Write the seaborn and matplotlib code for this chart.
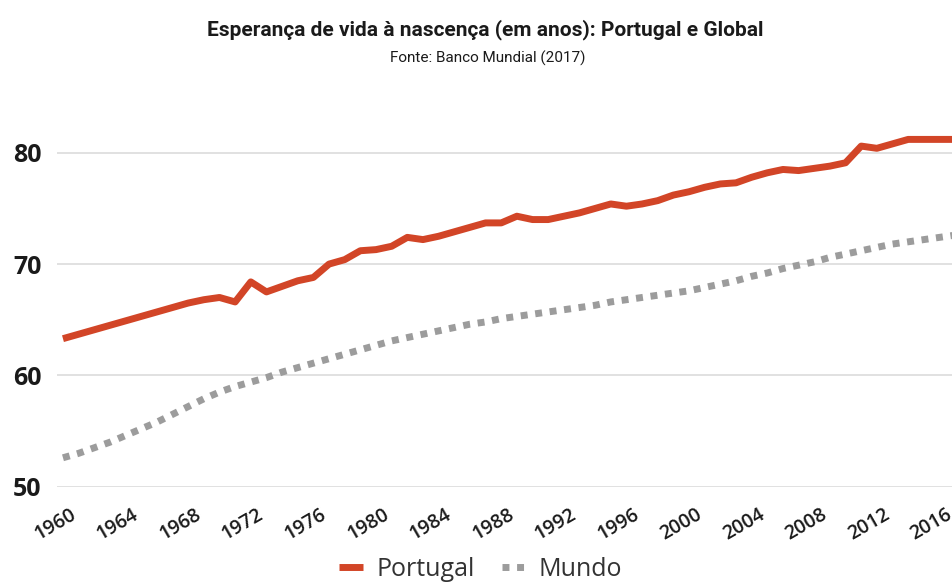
"""Esperança de vida à nascença: Portugal vs Mundo (Banco Mundial, 2017)."""
import pandas as pd
import matplotlib.pyplot as plt
import matplotlib.transforms as mtransforms
import seaborn as sns

anos = list(range(1960, 2018))
portugal = [63.3, 63.7, 64.1, 64.5, 64.9, 65.3, 65.7, 66.1, 66.5, 66.8,
            67.0, 66.6, 68.4, 67.5, 68.0, 68.5, 68.8, 70.0, 70.4, 71.2,
            71.3, 71.6, 72.4, 72.2, 72.5, 72.9, 73.3, 73.7, 73.7, 74.3,
            74.0, 74.0, 74.3, 74.6, 75.0, 75.4, 75.2, 75.4, 75.7, 76.2,
            76.5, 76.9, 77.2, 77.3, 77.8, 78.2, 78.5, 78.4, 78.6, 78.8,
            79.1, 80.6, 80.4, 80.8, 81.2, 81.2, 81.2, 81.2]
mundo = [52.6, 53.0, 53.5, 54.0, 54.6, 55.2, 55.8, 56.5, 57.2, 57.9,
         58.5, 59.0, 59.4, 59.8, 60.3, 60.7, 61.1, 61.5, 61.9, 62.3,
         62.7, 63.1, 63.4, 63.7, 64.0, 64.3, 64.6, 64.8, 65.1, 65.3,
         65.5, 65.7, 65.9, 66.1, 66.3, 66.6, 66.8, 67.0, 67.2, 67.4,
         67.6, 67.9, 68.2, 68.5, 68.9, 69.2, 69.6, 69.9, 70.2, 70.6,
         70.9, 71.2, 71.5, 71.8, 72.0, 72.2, 72.4, 72.6]
xticks = list(range(1960, 2017, 4))
yticks = [50, 60, 70, 80]

df = pd.DataFrame({"ano": anos, "Portugal": portugal, "Mundo": mundo})

sns.set_theme(style="white")
plt.rcParams["font.family"] = ["Open Sans", "DejaVu Sans"]

RED = "#D24527"
GREY = "#9C9C9C"

fig = plt.figure(figsize=(9.52, 5.85), dpi=100)
ax = fig.add_axes([0.0599, 0.168, 0.959, 0.666])

sns.lineplot(data=df, x="ano", y="Portugal", ax=ax, color=RED, lw=5,
             solid_capstyle="butt", label="Portugal", legend=False)
sns.lineplot(data=df, x="ano", y="Mundo", ax=ax, color=GREY, lw=5,
             linestyle=(0, (1, 1.1)), dash_capstyle="butt",
             label="Mundo", legend=False)

ax.set_xlim(1959.62, 2017.95)
ax.set_ylim(50, 85)
ax.set_xticks(xticks)
ax.set_yticks(yticks)
ax.set_xlabel("")
ax.set_ylabel("")
ax.grid(axis="y", color="#D9D9D9", lw=1.1)
ax.grid(axis="x", visible=False)
sns.despine(ax=ax, left=True, bottom=True)
ax.tick_params(axis="both", length=0)
ax.tick_params(axis="y", pad=11)
ax.tick_params(axis="x", pad=13)

for lbl in ax.get_yticklabels():
    lbl.set_fontsize(18)
    lbl.set_fontweight("bold")
    lbl.set_color("#1a1a1a")
shift = mtransforms.ScaledTranslation(-0.08, 0, fig.dpi_scale_trans)
for lbl in ax.get_xticklabels():
    lbl.set_rotation(30)
    lbl.set_fontsize(14)
    lbl.set_fontweight("semibold")
    lbl.set_color("#1a1a1a")
    lbl.set_transform(lbl.get_transform() + shift)

fig.text(0.510, 0.950, "Esperança de vida à nascença (em anos): Portugal e Global",
         ha="center", va="center", fontsize=15, fontweight="bold",
         family=["Liberation Sans Narrow", "Roboto", "DejaVu Sans"], color="#1a1a1a")
fig.text(0.512, 0.901, "Fonte: Banco Mundial (2017)", ha="center", va="center",
         fontsize=11, family=["Liberation Sans Narrow", "Roboto", "DejaVu Sans"],
         color="#1a1a1a")

handles, labels = ax.get_legend_handles_labels()
fig.legend(handles, labels, loc="center", bbox_to_anchor=(0.505, 0.027),
           ncol=2, frameon=False, fontsize=18, handlelength=0.96,
           handletextpad=0.52, columnspacing=1.08, labelcolor="#333333")

fig.savefig("out.png", dpi=100)
